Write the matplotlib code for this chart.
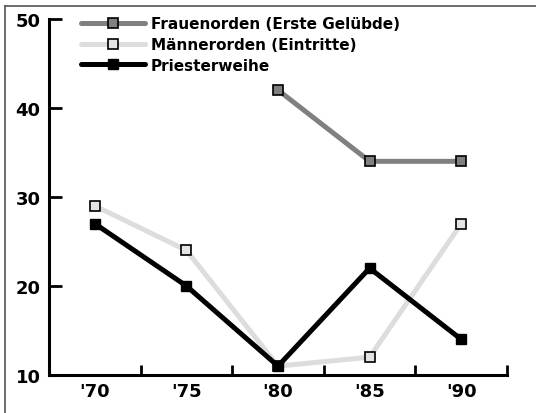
import numpy as np
import matplotlib.pyplot as plt
from matplotlib.lines import Line2D

plt.rcParams['font.family'] = ['DejaVu Sans']
plt.rcParams['font.weight'] = 'bold'

years = ["'70", "'75", "'80", "'85", "'90"]
frauen = [np.nan, np.nan, 42, 34, 34]
maenner = [29, 24, 11, 12, 27]
priester = [27, 20, 11, 22, 14]

fig = plt.figure(figsize=(5.36, 4.14), dpi=100)
ax = fig.add_axes([0.0914, 0.0918, 0.8546, 0.8602])

x = np.arange(len(years))
ax.plot(x, frauen, color='#808080', lw=3.6, marker='s', ms=6.5,
        mfc='#808080', mec='black', mew=1.2, label='Frauenorden (Erste Gelübde)')
ax.plot(x, maenner, color='#dddddd', lw=3.6, marker='s', ms=6.5,
        mfc='#e4e4e4', mec='black', mew=1.2, label='Männerorden (Eintritte)')
ax.plot(x, priester, color='black', lw=3.6, marker='s', ms=7.5,
        mfc='black', mec='black', label='Priesterweihe')

ax.set_xlim(-0.5, 4.5)
ax.set_ylim(10, 50)
ax.set_xticks(x)
ax.set_xticklabels(years)
ax.set_xticks(x + 0.5, minor=True)
ax.set_yticks([10, 20, 30, 40, 50])

for s in ['top', 'right']:
    ax.spines[s].set_visible(False)
for s in ['left', 'bottom']:
    ax.spines[s].set_linewidth(2.2)

ax.tick_params(axis='x', which='major', length=0, pad=5, labelsize=13)
ax.tick_params(axis='x', which='minor', direction='in', length=7, width=2)
ax.tick_params(axis='y', direction='in', length=9, width=2, pad=6, labelsize=13)

leg = ax.legend(loc='upper left', bbox_to_anchor=(0.136, 0.977),
                bbox_transform=fig.transFigure, frameon=False,
                fontsize=11, handlelength=4.2, handletextpad=0.4,
                labelspacing=0.38, borderpad=0)
for h in leg.get_lines():
    h.set_solid_capstyle('round')

# thin frame lines at top and left of the picture
fig.add_artist(Line2D([0.0095, 1.0], [0.983, 0.983], color='#555555', lw=1.2,
                      transform=fig.transFigure))
fig.add_artist(Line2D([0.0095, 0.0095], [0.0, 0.983], color='#555555', lw=1.2,
                      transform=fig.transFigure))

fig.savefig('out.png', dpi=100)
